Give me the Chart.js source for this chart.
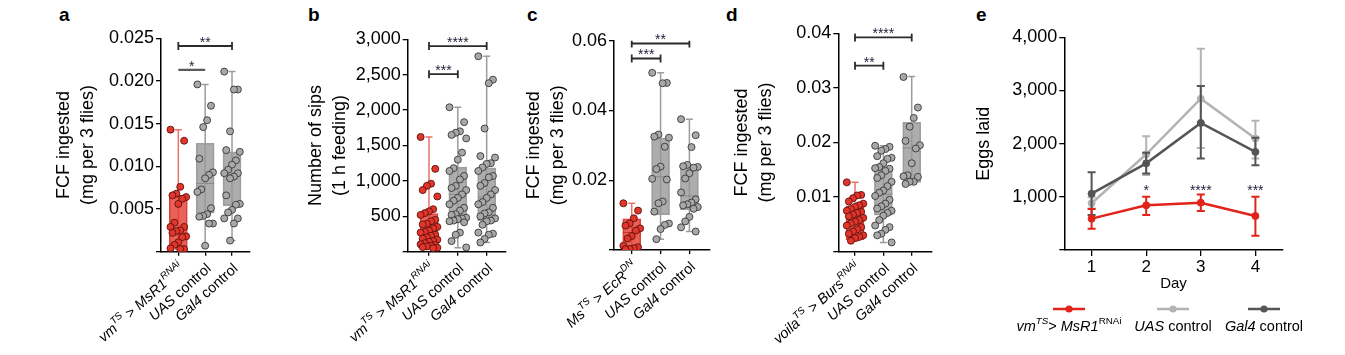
<!DOCTYPE html>
<html><head><meta charset="utf-8">
<script src="https://cdn.jsdelivr.net/npm/chart.js@4.4.1/dist/chart.umd.min.js"></script>
<style>
html,body{margin:0;padding:0;background:#fff;width:1345px;height:355px;overflow:hidden;position:relative;}
canvas{position:absolute;top:0;}
.lbl{position:absolute;font:bold 19px "Liberation Sans",Arial,sans-serif;line-height:19px;color:#000;}
</style></head><body>
<div class="lbl" style="left:59px;top:5px">a</div>
<div class="lbl" style="left:308px;top:5px">b</div>
<div class="lbl" style="left:527px;top:5px">c</div>
<div class="lbl" style="left:726px;top:5px">d</div>
<div class="lbl" style="left:976px;top:5px">e</div>
<canvas id="ca" width="260" height="355" style="left:0px"></canvas>
<canvas id="cb" width="260" height="355" style="left:260px"></canvas>
<canvas id="cc" width="200" height="355" style="left:520px"></canvas>
<canvas id="cd" width="225" height="355" style="left:720px"></canvas>
<canvas id="ce" width="400" height="355" style="left:945px"></canvas>
<script>
// ---------------- DATA ----------------
// Panel a
const aCategories = [[['vm','i'],['TS','is'],[' > ',''],['MsR1','i'],['RNAi','is']], [['UAS','i'],[' control','']], [['Gal4','i'],[' control','']]];
const aRed  = [0.0143,0.0130,0.0076,0.0068,0.0066,0.0064,0.0062,0.0056,0.0034,0.0029,0.0029,0.0025,0.0024,0.0022,0.0018,0.0017,0.0011,0.0008,0.0004,0.0003,0.0003];
const aUAS  = [0.0196,0.0171,0.0154,0.0146,0.0109,0.0093,0.0090,0.0086,0.0073,0.0070,0.0051,0.0044,0.0042,0.0041,0.0033,0.0033,0.0007];
const aGal4 = [0.0211,0.0190,0.0190,0.0141,0.0119,0.0117,0.0107,0.0102,0.0096,0.0092,0.0092,0.0088,0.0086,0.0066,0.0056,0.0055,0.0049,0.0046,0.0039,0.0039,0.0033,0.0013];
const aMin = [0.0003,0.0007,0.0013], aQ1 = [0.0006,0.0045,0.0054], aMedian = [0.0026,0.0080,0.0090], aQ3 = [0.0066,0.0127,0.0117], aMax = [0.0143,0.0196,0.0211];
const aYTicks = ['0.005','0.010','0.015','0.020','0.025'];
const aBrackets = [{from:0,to:2,y:0.0241,stars:'**'},{from:0,to:1,y:0.0213,stars:'*',caps:false}];

// Panel b
const bCategories = aCategories;
const bRed  = [1620,1170,960,930,870,780,600,570,545,520,450,430,395,385,350,330,300,280,270,240,225,200,185,170,150,140,120,105,95,85,75,65,55,50];
const bUAS  = [2040,1830,1700,1680,1650,1600,1400,1300,1180,1140,1070,1020,930,900,870,810,760,720,670,620,580,530,520,480,470,460,440,430,415,270,240,150,60];
const bGal4 = [2760,2430,2380,1740,1350,1330,1250,1240,1190,1140,1070,1050,970,930,870,810,760,700,670,620,555,540,500,470,440,430,380,270,255,240,180,130];
const bMin = [45,55,130], bQ1 = [60,430,440], bMedian = [300,810,770], bQ3 = [540,1195,1185], bMax = [1620,2040,2760];
const bYTicks = ['500','1,000','1,500','2,000','2,500','3,000'];
const bBrackets = [{from:0,to:2,y:2905,stars:'****'},{from:0,to:1,y:2507,stars:'***'}];

// Panel c
const cCategories = [[['Ms','i'],['TS','is'],[' > ',''],['EcR','i'],['DN','is']], [['UAS','i'],[' control','']], [['Gal4','i'],[' control','']]];
const cRed  = [0.0134,0.0113,0.0091,0.0076,0.0070,0.0062,0.0056,0.0040,0.0033,0.0012,0.0008,0.0005,0.0003,0.0002];
const cUAS  = [0.0508,0.0479,0.0478,0.0331,0.0325,0.0322,0.0296,0.0239,0.0232,0.0204,0.0202,0.0139,0.0134,0.0110,0.0076,0.0072,0.0060,0.0031];
const cGal4 = [0.0375,0.0329,0.0295,0.0244,0.0240,0.0238,0.0236,0.0220,0.0205,0.0165,0.0145,0.0136,0.0131,0.0128,0.0123,0.0118,0.0095,0.0082,0.0065,0.0053];
const cMin = [0.0002,0.0031,0.0053], cQ1 = [0.0003,0.0101,0.0115], cMedian = [0.0050,0.0210,0.0155], cQ3 = [0.0089,0.0321,0.0239], cMax = [0.0134,0.0508,0.0375];
const cYTicks = ['0.02','0.04','0.06'];
const cBrackets = [{from:0,to:2,y:0.0592,stars:'**'},{from:0,to:1,y:0.0549,stars:'***'}];

// Panel d
const dCategories = [[['voila','i'],['TS','is'],[' > ',''],['Burs','i'],['RNAi','is']], [['UAS','i'],[' control','']], [['Gal4','i'],[' control','']]];
const dRed  = [0.0127,0.0104,0.0103,0.0098,0.0092,0.0088,0.0085,0.0082,0.0078,0.0075,0.0073,0.0071,0.0068,0.0065,0.0062,0.0058,0.0055,0.0052,0.0048,0.0045,0.0041,0.0037,0.0033,0.0030,0.0027,0.0025,0.0020];
const dUAS  = [0.0194,0.0192,0.0188,0.0185,0.0175,0.0172,0.0170,0.0162,0.0155,0.0153,0.0152,0.0148,0.0140,0.0135,0.0128,0.0120,0.0112,0.0108,0.0102,0.0095,0.0088,0.0083,0.0079,0.0075,0.0071,0.0066,0.0058,0.0048,0.0045,0.0040,0.0033,0.0030,0.0017];
const dGal4 = [0.0320,0.0264,0.0245,0.0229,0.0203,0.0195,0.0189,0.0162,0.0140,0.0138,0.0137,0.0128,0.0128,0.0124];
const dMin = [0.0020,0.0017,0.0124], dQ1 = [0.0022,0.0067,0.0127], dMedian = [0.0055,0.0105,0.0190], dQ3 = [0.0084,0.0153,0.0237], dMax = [0.0127,0.0194,0.0321];
const dYTicks = ['0.01','0.02','0.03','0.04'];
const dBrackets = [{from:0,to:2,y:0.03925,stars:'****'},{from:0,to:1,y:0.03407,stars:'**'}];

// Panel e
const eDays = [1,2,3,4];
const eRedMean = [590,840,890,640],   eRedHi = [770,1000,1045,1000],   eRedLo = [400,660,735,270];
const eUASMean = [880,1800,2845,2095], eUASHi = [990,2140,3785,2430],  eUASLo = [780,1410,1920,1720];
const eGal4Mean = [1060,1630,2390,1845], eGal4Hi = [1460,1830,3085,2110], eGal4Lo = [660,1440,1720,1595];
const eYTicks = ['1,000','2,000','3,000','4,000'];
const eStars = ['', '*', '****', '***'];
const eSeriesNames = [[['vm','i'],['TS','is'],['> ',''],['MsR1','i'],['RNAi','s']], [['UAS','i'],[' control','']], [['Gal4','i'],[' control','']]];

// ---------------- STYLE ----------------
const FONT = '"Liberation Sans", Arial, Helvetica, sans-serif';
Chart.defaults.font.family = FONT;
Chart.defaults.color = '#000';
const RED_PT = '#e2352b', RED_PT_EDGE = '#5c120d';
const GRAY_PT = '#a8a8a8', GRAY_PT_EDGE = '#383838';
const BOX_FILL = ['rgba(228,62,52,0.82)','rgba(152,152,152,0.8)','rgba(152,152,152,0.8)'];
const BOX_EDGE = ['#d8463c','#a0a0a0','#a0a0a0'];
const WHISK = ['#ea7369','#9c9c9c','#9c9c9c'];
const MED = ['#c8362c','#8a8a8a','#8a8a8a'];
const STAR = '#1c1c3a';

function jit(k){ return (((k*7)%9)-4)/4; }

function drawRich(ctx, segs, x, y, size, angle, align) {
  ctx.save();
  ctx.translate(x, y); ctx.rotate(angle);
  ctx.textBaseline = 'middle'; ctx.textAlign = 'left'; ctx.fillStyle = '#000';
  const parts = segs.map(([t,f]) => {
    const sup = f.includes('s'), it = f.includes('i');
    const sz = sup ? size*0.68 : size;
    const font = (it ? 'italic ' : '') + sz + 'px ' + FONT;
    ctx.font = font;
    return {t, font, w: ctx.measureText(t).width, dy: sup ? -size*0.38 : 0};
  });
  const total = parts.reduce((a,p) => a + p.w, 0);
  let cx = align === 'right' ? -total : (align === 'center' ? -total/2 : 0);
  parts.forEach(p => { ctx.font = p.font; ctx.fillText(p.t, cx, p.dy); cx += p.w; });
  ctx.restore();
}

function axisCommon(){
  return {
    grid:{display:true, drawOnChartArea:false, drawTicks:true, color:'#000', lineWidth:1.3, offset:false},
    border:{display:true, color:'#000', width:1.5}
  };
}

function makeBoxPanel(id, P) {
  const idx = [0,1,2];
  const ds = [];
  ds.push({type:'bar', data: idx.map(i => ({x:i, y:[P.q1[i], P.q3[i]]})), backgroundColor:BOX_FILL, borderColor:BOX_EDGE, borderWidth:1, borderSkipped:false, barThickness:18, order:5});
  idx.forEach(i => ds.push({type:'line', data:[{x:i,y:P.min[i]},{x:i,y:P.max[i]}], borderColor:WHISK[i], borderWidth:1.5, pointStyle:'line', pointRadius:3.5, pointBorderColor:WHISK[i], pointBorderWidth:1.5, pointBackgroundColor:WHISK[i], fill:false, order:6}));
  ds.push({type:'scatter', data: idx.map(i => ({x:i, y:P.median[i]})), pointStyle:'line', pointRadius:9, pointBorderColor:MED, pointBorderWidth:1, order:4});
  P.series.forEach((vals,i) => ds.push({type:'scatter', data: vals.map((v,k) => ({x: i + jit(k)*0.29, y: v})), pointRadius:3.5, pointBackgroundColor: i===0?RED_PT:GRAY_PT, pointBorderColor: i===0?RED_PT_EDGE:GRAY_PT_EDGE, pointBorderWidth:0.9, order:1}));
  P.brackets.forEach(b => ds.push({type:'line', data:[{x:b.from,y:b.y},{x:b.to,y:b.y}], borderColor: b.caps===false ? '#5a5a5a' : '#2b2b2b', borderWidth: b.caps===false ? 2.4 : 1.8, pointStyle:'line', pointRotation:90, pointRadius: b.caps===false ? 0 : 4, pointBorderColor:'#2b2b2b', pointBorderWidth:1.8, fill:false, order:0}));

  const labelsPlugin = {
    id: 'rich_' + id,
    afterDraw(chart) {
      const ctx = chart.ctx, xs = chart.scales.x, ys = chart.scales.y, ca = chart.chartArea;
      P.categories.forEach((segs,i) => drawRich(ctx, segs, xs.getPixelForValue(i) + 4, ca.bottom + 15, 14.5, -42*Math.PI/180, 'right'));
      ctx.save();
      ctx.fillStyle = STAR; ctx.font = '14px ' + FONT; ctx.textAlign = 'center'; ctx.textBaseline = 'alphabetic';
      P.brackets.forEach(b => {
        const x = (xs.getPixelForValue(b.from) + xs.getPixelForValue(b.to)) / 2;
        ctx.fillText(b.stars, x, ys.getPixelForValue(b.y) + 1);
      });
      ctx.restore();
    }
  };

  const ax = axisCommon(), ay = axisCommon();
  new Chart(document.getElementById(id), {
    type:'bar',
    data:{datasets: ds},
    options:{
      animation:false, responsive:false, events:[],
      layout:{padding:{left:P.pl, top:P.pt, right:P.pr, bottom:P.pb}},
      plugins:{legend:{display:false}, tooltip:{enabled:false}},
      scales:{
        x:{type:'linear', min:P.xmin, max:P.xmax, offset:false,
           afterBuildTicks: s => { s.ticks = idx.map(v => ({value:v})); },
           ticks:{display:false},
           grid:Object.assign(ax.grid,{tickLength:4}), border:ax.border,
           afterFit: s => { s.height = 10; }},
        y:{type:'linear', min:0, max:P.ymax,
           afterBuildTicks: s => { s.ticks = [0].concat(P.yticks.map(t => parseFloat(t.replace(/,/g,'')))).map(v => ({value:v})); },
           ticks:{font:{size:18}, color:'#000', padding:2, callback:(v,i) => i===0 ? '' : P.yticks[i-1]},
           grid:Object.assign(ay.grid,{tickLength:5}), border:ay.border,
           title:{display:true, text:P.title, font:{size:18, lineHeight:1.33}, padding:0, color:'#000'},
           afterFit: s => { s.width = P.yw; }}
      }
    },
    plugins:[labelsPlugin]
  });
}

makeBoxPanel('ca', {categories:aCategories, series:[aRed,aUAS,aGal4], min:aMin, q1:aQ1, median:aMedian, q3:aQ3, max:aMax, yticks:aYTicks, brackets:aBrackets,
  ymax:0.025, title:['FCF ingested','(mg per 3 flies)'], pl:52, yw:109, pt:38.3, pr:5, pb:93.3, xmin:-0.645, xmax:2.67});
makeBoxPanel('cb', {categories:bCategories, series:[bRed,bUAS,bGal4], min:bMin, q1:bQ1, median:bMedian, q3:bQ3, max:bMax, yticks:bYTicks, brackets:bBrackets,
  ymax:3000, title:['Number of sips','(1 h feeding)'], pl:43.7, yw:104, pt:39.3, pr:14, pb:93.3, xmin:-0.738, xmax:2.67});
makeBoxPanel('cc', {categories:cCategories, series:[cRed,cUAS,cGal4], min:cMin, q1:cQ1, median:cMedian, q3:cQ3, max:cMax, yticks:cYTicks, brackets:cBrackets,
  ymax:0.06, title:['FCF ingested','(mg per 3 flies)'], pl:2, yw:92, pt:40.7, pr:10.7, pb:95, xmin:-0.615, xmax:2.69});
makeBoxPanel('cd', {categories:dCategories, series:[dRed,dUAS,dGal4], min:dMin, q1:dQ1, median:dMedian, q3:dQ3, max:dMax, yticks:dYTicks, brackets:dBrackets,
  ymax:0.04, title:['FCF ingested','(mg per 3 flies)'], pl:10.3, yw:108, pt:33.3, pr:13.3, pb:93.3, xmin:-0.59, xmax:2.705});

// ---------------- Panel e ----------------
(function(){
  const RED = '#e2231a', LG = '#b3b3b3', DG = '#555555';
  function errData(hi, lo){
    const out = [];
    eDays.forEach((d,i) => { out.push({x:d,y:lo[i]}); out.push({x:d,y:hi[i]}); out.push({x:d,y:null}); });
    return out;
  }
  function errDs(hi, lo, color, order){
    return {type:'line', data:errData(hi,lo), borderColor:color, borderWidth:2, spanGaps:false, pointStyle:'line', pointRadius:4, pointBorderColor:color, pointBorderWidth:2, fill:false, order};
  }
  function meanDs(m, color, order){
    return {type:'line', data:eDays.map((d,i) => ({x:d, y:m[i]})), borderColor:color, borderWidth:2.5, pointRadius:3.5, pointBackgroundColor:color, pointBorderColor:color, pointBorderWidth:1, fill:false, tension:0, order};
  }
  const ds = [
    meanDs(eRedMean, RED, 0), errDs(eRedHi, eRedLo, RED, 1),
    meanDs(eGal4Mean, DG, 2), errDs(eGal4Hi, eGal4Lo, DG, 3),
    meanDs(eUASMean, LG, 4), errDs(eUASHi, eUASLo, LG, 5)
  ];
  const legendCenters = [124, 228, 319];
  const legendColors = [RED, LG, DG];
  const plug = {
    id:'eextra',
    afterDraw(chart){
      const ctx = chart.ctx, xs = chart.scales.x, ys = chart.scales.y;
      ctx.save();
      ctx.fillStyle = STAR; ctx.font = '14px ' + FONT; ctx.textAlign = 'center'; ctx.textBaseline = 'alphabetic';
      eDays.forEach((d,i) => { if (eStars[i]) ctx.fillText(eStars[i], xs.getPixelForValue(d), ys.getPixelForValue(1038)); });
      ctx.restore();
      eSeriesNames.forEach((segs,i) => {
        const cx = legendCenters[i];
        ctx.save();
        ctx.strokeStyle = legendColors[i]; ctx.lineWidth = 2.5;
        ctx.beginPath(); ctx.moveTo(cx-16, 309); ctx.lineTo(cx+16, 309); ctx.stroke();
        ctx.fillStyle = legendColors[i];
        ctx.beginPath(); ctx.arc(cx, 309, 3.6, 0, Math.PI*2); ctx.fill();
        ctx.restore();
        drawRich(ctx, segs, cx, 327, 14.5, 0, 'center');
      });
    }
  };
  const ax = axisCommon(), ay = axisCommon();
  new Chart(document.getElementById('ce'), {
    type:'line',
    data:{datasets:ds},
    options:{
      animation:false, responsive:false, events:[],
      layout:{padding:{left:27.2, top:37.3, right:62.3, bottom:62}},
      plugins:{legend:{display:false}, tooltip:{enabled:false}},
      scales:{
        x:{type:'linear', min:0.5, max:4.5, offset:false,
           afterBuildTicks: s => { s.ticks = eDays.map(v => ({value:v})); },
           ticks:{font:{size:17}, color:'#000', padding:1, callback: v => String(v)},
           grid:Object.assign(ax.grid,{tickLength:6}), border:ax.border,
           title:{display:true, text:'Day', font:{size:15}, padding:0, color:'#000'},
           afterFit: s => { s.height = 43; }},
        y:{type:'linear', min:0, max:4000,
           afterBuildTicks: s => { s.ticks = [0].concat(eYTicks.map(t => parseFloat(t.replace(/,/g,'')))).map(v => ({value:v})); },
           ticks:{font:{size:18}, color:'#000', padding:2, callback:(v,i) => i===0 ? '' : eYTicks[i-1]},
           grid:Object.assign(ay.grid,{tickLength:5}), border:ay.border,
           title:{display:true, text:'Eggs laid', font:{size:18, lineHeight:1.33}, padding:0, color:'#000'},
           afterFit: s => { s.width = 92.1; }}
      }
    },
    plugins:[plug]
  });
})();
</script>
</body></html>
